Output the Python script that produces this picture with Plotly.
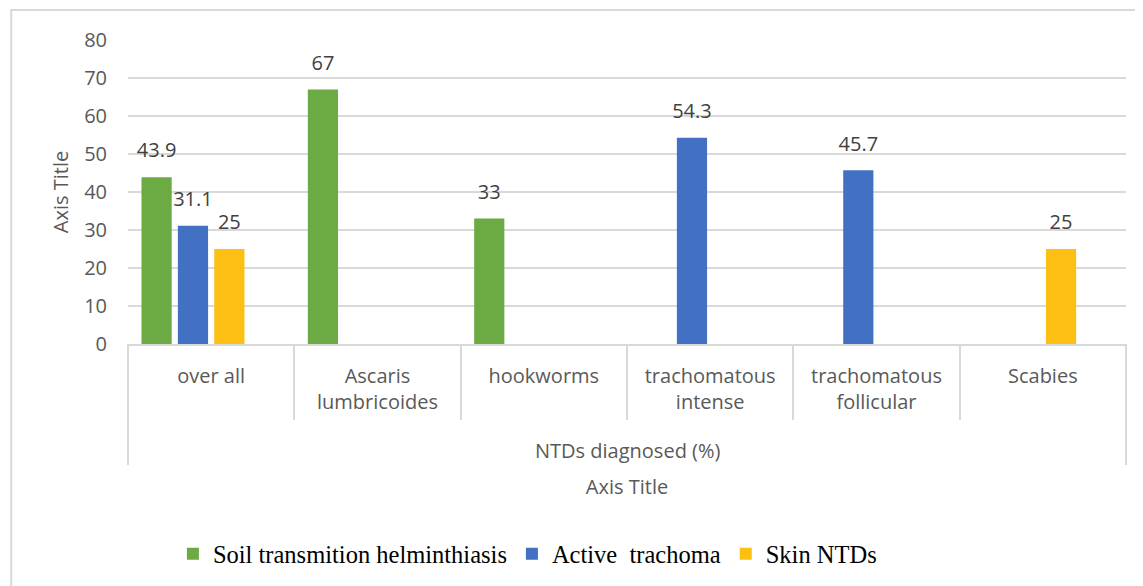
import plotly.graph_objects as go

categories = ["over all", "Ascaris<br>lumbricoides", "hookworms",
              "trachomatous<br>intense", "trachomatous<br>follicular", "Scabies"]
soil_helminth = [43.9, 67, 33, None, None, None]
active_trachoma = [31.1, None, None, 54.3, 45.7, None]
skin_ntds = [25, None, None, None, None, 25]
empty_series = [None, None, None, None, None, None]

series_names = ["Soil transmition helminthiasis", "Active\u00a0 trachoma", "Skin NTDs"]
series_colors = ["#6cab43", "#4270c3", "#fcbf12"]
y_ticks = [0, 10, 20, 30, 40, 50, 60, 70, 80]

FONT = "Open Sans"
GRAY = "#595959"

all_series = [soil_helminth, active_trachoma, skin_ntds, empty_series]

fig = go.Figure()
for i, vals in enumerate(all_series):
    real = i < 3
    fig.add_trace(go.Bar(
        x=categories, y=vals,
        name=series_names[i] if real else "",
        showlegend=real, offsetgroup=str(i), alignmentgroup="a",
        marker=dict(color=series_colors[i] if real else "rgba(0,0,0,0)", line=dict(width=0)),
        hoverinfo="y" if real else "skip",
    ))
# value labels
for i, vals in enumerate(all_series):
    fig.add_trace(go.Scatter(
        x=categories, y=vals, mode="markers+text",
        texttemplate="%{y}", textposition="top center",
        textfont=dict(family=FONT, size=20, color="#404040"),
        marker=dict(size=22, color="rgba(0,0,0,0)"),
        offsetgroup=str(i), alignmentgroup="a",
        showlegend=False, hoverinfo="skip", cliponaxis=False,
    ))

fig.update_layout(
    width=1143, height=586,
    margin=dict(l=120, r=25, t=32, b=250),
    paper_bgcolor="white", plot_bgcolor="white",
    barmode="group", bargap=0.125, bargroupgap=0.17,
    scattermode="group", scattergap=0.125,
    font=dict(family=FONT, size=20, color=GRAY),
    showlegend=True,
    legend=dict(orientation="h", x=0.045, xanchor="left", y=-0.69, yanchor="middle",
                font=dict(family="Liberation Serif", size=24.5, color="black"),
                bgcolor="rgba(0,0,0,0)"),
    xaxis=dict(
        type="category", showline=True, linecolor="#d9d9d9", linewidth=2,
        ticks="outside", tickson="boundaries", ticklen=74, tickcolor="#d9d9d9", tickwidth=2,
        ticklabelstandoff=13, automargin=False,
        tickfont=dict(family=FONT, size=20, color=GRAY),
        title=dict(text="Axis Title", standoff=66, font=dict(family=FONT, size=20, color=GRAY)),
        showgrid=False, zeroline=False,
    ),
    yaxis=dict(
        range=[0, 80], tickvals=y_ticks, showline=False, automargin=False,
        showgrid=True, gridcolor="#d9d9d9", gridwidth=2, zeroline=False,
        ticks="", ticklabelstandoff=20,
        tickfont=dict(family=FONT, size=20, color=GRAY),
        title=dict(text="Axis Title", standoff=10, font=dict(family=FONT, size=20, color=GRAY)),
    ),
    annotations=[dict(text="NTDs diagnosed (%)", xref="paper", yref="paper",
                      x=0.5, y=-0.349, xanchor="center", yanchor="middle",
                      showarrow=False, font=dict(family=FONT, size=20, color=GRAY))],
    shapes=[
        dict(type="line", xref="x domain", yref="paper", x0=0, x1=0, y0=0, y1=-0.398,
             line=dict(color="#d9d9d9", width=2)),
        dict(type="line", xref="x domain", yref="paper", x0=1, x1=1, y0=0, y1=-0.398,
             line=dict(color="#d9d9d9", width=2)),
        dict(type="rect", xref="paper", yref="paper", x0=-0.117, x1=1.05, y0=-0.9, y1=1.099,
             line=dict(color="#d9d9d9", width=2), fillcolor="rgba(0,0,0,0)", layer="below"),
    ],
)

fig.write_html("out.html")
